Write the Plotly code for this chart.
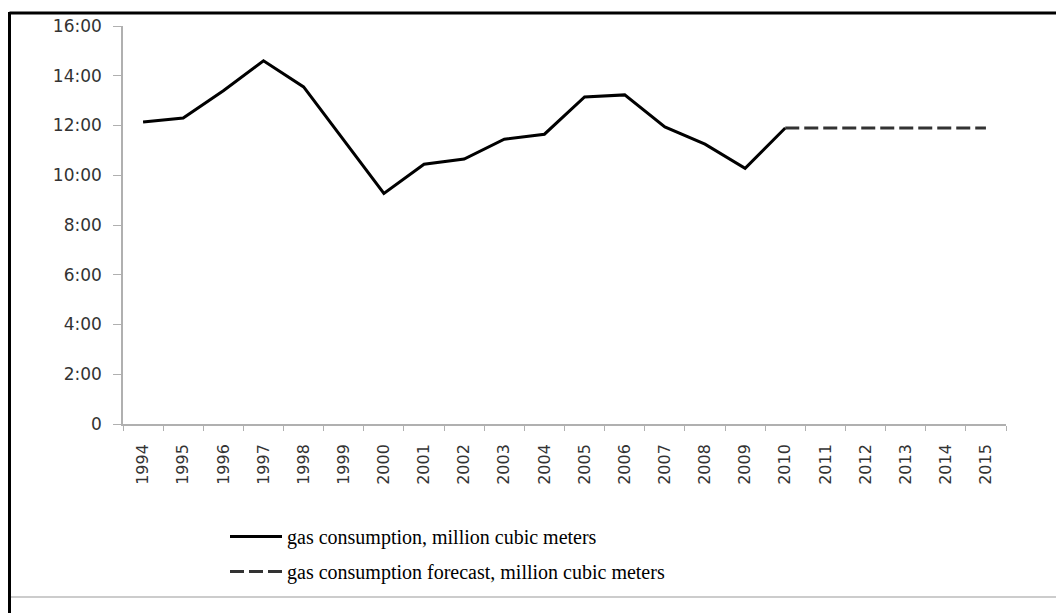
import plotly.graph_objects as go

years = [str(y) for y in range(1994, 2016)]
actual_years = [str(y) for y in range(1994, 2011)]
actual_values = [12.14, 12.3, 13.4, 14.6, 13.55, 11.4, 9.27, 10.44, 10.65, 11.45,
                 11.65, 13.15, 13.23, 11.94, 11.25, 10.28, 11.9]
forecast_years = [str(y) for y in range(2010, 2016)]
forecast_values = [11.9, 11.9, 11.9, 11.9, 11.9, 11.9]
ytick_vals = [0, 2, 4, 6, 8, 10, 12, 14, 16]
ytick_text = ["0", "2:00", "4:00", "6:00", "8:00", "10:00", "12:00", "14:00", "16:00"]

W, H = 1056, 613
L, R, T, B = 123, 1006, 26, 424

fig = go.Figure()
fig.add_trace(go.Scatter(
    x=actual_years, y=actual_values, mode="lines",
    name="gas consumption, million cubic meters",
    line=dict(color="#000000", width=3),
    legendgroup="a",
))
fig.add_trace(go.Scatter(
    x=forecast_years, y=forecast_values, mode="lines",
    name="gas consumption forecast, million cubic meters",
    line=dict(color="#333333", width=3, dash="14px,5px"),
    legendgroup="b",
))

def px(xp):
    return (xp - L) / (R - L)

def py(yp):
    return (B - yp) / (B - T)

shapes = [
    dict(type="line", xref="paper", yref="paper", x0=px(9.5), x1=px(1060), y0=py(13), y1=py(13),
         line=dict(color="#000000", width=3)),
    dict(type="line", xref="paper", yref="paper", x0=px(9.5), x1=px(9.5), y0=py(12), y1=py(620),
         line=dict(color="#000000", width=3)),
    dict(type="line", xref="paper", yref="paper", x0=px(11), x1=px(1060), y0=py(597), y1=py(597),
         line=dict(color="#cccccc", width=2)),
]

fig.update_layout(
    width=W, height=H,
    margin=dict(l=L, r=W - R, t=T, b=H - B, pad=0),
    paper_bgcolor="#ffffff", plot_bgcolor="#ffffff",
    shapes=shapes,
    showlegend=True,
    legend=dict(
        x=px(225), y=py(517), xanchor="left", yanchor="top",
        font=dict(family="Liberation Serif", size=20, color="#000000"),
        traceorder="grouped", tracegroupgap=6,
        itemwidth=52,
        bgcolor="rgba(0,0,0,0)",
    ),
    xaxis=dict(
        type="category", categoryorder="array", categoryarray=years,
        range=[-0.5, len(years) - 0.5],
        showgrid=False, zeroline=False,
        showline=True, linecolor="#b0b0b0", linewidth=1.5,
        ticks="outside", ticklen=5, tickcolor="#b0b0b0", tickson="boundaries",
        tickangle=-90,
        tickfont=dict(family="DejaVu Sans", size=16, color="#333333"),
        ticklabelstandoff=12,
    ),
    yaxis=dict(
        range=[0, 16],
        tickvals=ytick_vals, ticktext=ytick_text,
        showgrid=False, zeroline=False,
        showline=True, linecolor="#b0b0b0", linewidth=1.5,
        ticks="outside", ticklen=8, tickcolor="#b0b0b0",
        tickfont=dict(family="DejaVu Sans", size=17, color="#333333"),
        ticklabelstandoff=8,
    ),
)

fig.write_html("out.html", config={"displayModeBar": False},
               post_script="document.body.style.margin='0';")
